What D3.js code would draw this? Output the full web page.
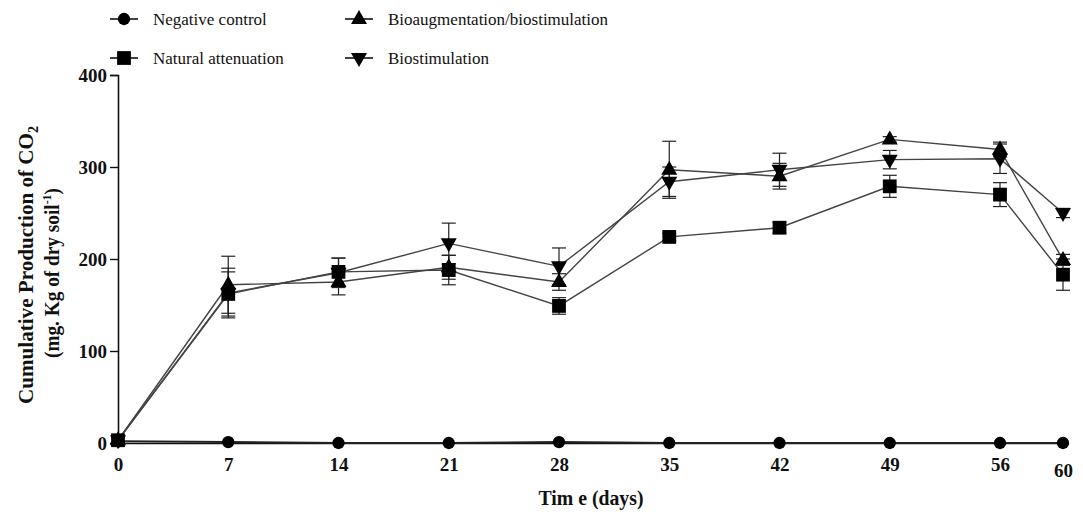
<!DOCTYPE html>
<html>
<head>
<meta charset="utf-8">
<script src="https://cdn.jsdelivr.net/npm/d3@7"></script>
<style>
  body { margin: 0; background: #fff; }
  svg { display: block; }
  text { font-family: "Liberation Serif", "Times New Roman", serif; fill: #111; }
</style>
</head>
<body>
<svg width="1083" height="517"></svg>
<script>
// Chart data
// ----------
var days = [0, 7, 14, 21, 28, 35, 42, 49, 56, 60];
var yTicks = [0, 100, 200, 300, 400];

var negControl = [2, 1, 0, 0, 1, 0, 0, 0, 0, 0];
var negControlErr = [0, 0, 0, 0, 0, 0, 0, 0, 0, 0];
var naturalAtt = [3, 162, 186, 188, 149, 224, 234, 279, 270, 183];
var naturalAttErr = [0, 24, 15, 16, 9, 4, 6, 12, 13, 17];
var bioaug = [3, 172, 175, 191, 175, 297, 290, 330, 319, 199];
var bioaugErr = [0, 31, 14, 13, 9, 31, 14, 3, 8, 6];
var biostim = [3, 163, 185, 217, 192, 284, 297, 308, 309, 250];
var biostimErr = [0, 27, 16, 22, 20, 16, 18, 10, 16, 5];

var series = [
  {name: 'Negative control', values: negControl, err: negControlErr, shape: 'circle'},
  {name: 'Natural attenuation', values: naturalAtt, err: naturalAttErr, shape: 'square'},
  {name: 'Bioaugmentation/biostimulation', values: bioaug, err: bioaugErr, shape: 'up'},
  {name: 'Biostimulation', values: biostim, err: biostimErr, shape: 'down'}
];

var svg = d3.select('svg');
var x = d3.scaleLinear().domain([0, 60]).range([118, 1063]);
var y = d3.scaleLinear().domain([0, 400]).range([443, 75]);

// marker path for each shape
function marker(shape) {
  if (shape == 'circle') return d3.symbol(d3.symbolCircle, 120)();
  if (shape == 'square') return d3.symbol(d3.symbolSquare, 190)();
  if (shape == 'up') return 'M0,-9L8,5L-8,5Z';
  return 'M0,9L8,-5L-8,-5Z';
}

// Axes
// ----
var yAxis = svg.append('g')
  .attr('transform', 'translate(118,0)')
  .call(d3.axisLeft(y).tickValues(yTicks).tickSize(8).tickPadding(3));
var xAxis = svg.append('g')
  .attr('transform', 'translate(0,443)')
  .call(d3.axisBottom(x).tickValues(days).tickSize(5).tickPadding(10));
[yAxis, xAxis].forEach(function (g) {
  g.select('.domain').attr('stroke', '#111').attr('stroke-width', 1.6);
  g.selectAll('.tick line').attr('stroke', '#111').attr('stroke-width', 1.4);
  g.selectAll('text')
    .attr('font-family', '"Liberation Serif", serif')
    .attr('font-weight', 'bold')
    .attr('font-size', '19px')
    .attr('fill', '#111');
});
xAxis.selectAll('.tick')
  .filter(function (d) { return d == 60; })
  .select('text').attr('dy', '1.0em');

// Series lines, error bars and markers
// ------------------------------------
var line = d3.line()
  .x(function (d, i) { return x(days[i]); })
  .y(function (d) { return y(d); });

series.forEach(function (s) {
  svg.append('path')
    .attr('d', line(s.values))
    .attr('fill', 'none')
    .attr('stroke', s.shape == 'circle' ? '#222' : '#444')
    .attr('stroke-width', s.shape == 'circle' ? 2 : 1.4);
});

series.forEach(function (s) {
  var g = svg.append('g');
  s.values.forEach(function (v, i) {
    var e = s.err[i];
    if (!e) return;
    var cx = x(days[i]);
    g.append('line')
      .attr('x1', cx).attr('x2', cx)
      .attr('y1', y(v - e)).attr('y2', y(v + e))
      .attr('stroke', '#222').attr('stroke-width', 1.2);
    [v - e, v + e].forEach(function (c) {
      g.append('line')
        .attr('x1', cx - 7).attr('x2', cx + 7)
        .attr('y1', y(c)).attr('y2', y(c))
        .attr('stroke', '#222').attr('stroke-width', 1.2);
    });
  });
});

series.forEach(function (s) {
  svg.append('g').selectAll('path')
    .data(s.values)
    .join('path')
    .attr('d', marker(s.shape))
    .attr('transform', function (d, i) { return 'translate(' + x(days[i]) + ',' + y(d) + ')'; })
    .attr('fill', '#000');
});

// Axis titles
// -----------
svg.append('text')
  .attr('x', 591).attr('y', 505)
  .attr('text-anchor', 'middle')
  .attr('font-weight', 'bold')
  .attr('font-size', '21px')
  .attr('textLength', 105)
  .attr('lengthAdjust', 'spacingAndGlyphs')
  .text('Tim e (days)');

var yTitle = svg.append('g')
  .attr('transform', 'translate(0,260) rotate(-90)');
var t1 = yTitle.append('text')
  .attr('x', -144).attr('y', 33)
  .attr('font-weight', 'bold')
  .attr('font-size', '21px')
  .attr('textLength', 278)
  .attr('lengthAdjust', 'spacingAndGlyphs')
  .text('Cumulative Production of CO');
t1.append('tspan').attr('font-size', '14px').attr('dy', 5).text('2');
var t2 = yTitle.append('text')
  .attr('x', -98).attr('y', 59)
  .attr('font-weight', 'bold')
  .attr('font-size', '21px')
  .attr('textLength', 170)
  .attr('lengthAdjust', 'spacingAndGlyphs')
  .text('(mg. Kg of dry soil');
t2.append('tspan').attr('font-size', '13px').attr('dy', -8).text('-1');
t2.append('tspan').attr('dy', 8).text(')');

// Legend
// ------
var legendPos = [[124, 19], [124, 58], [359, 19], [359, 58]];
series.forEach(function (s, i) {
  var p = legendPos[i];
  var g = svg.append('g').attr('transform', 'translate(' + p[0] + ',' + p[1] + ')');
  g.append('line')
    .attr('x1', -14).attr('x2', 14)
    .attr('stroke', '#111').attr('stroke-width', 1.6);
  g.append('path').attr('d', marker(s.shape)).attr('fill', '#000');
  g.append('text')
    .attr('x', 29).attr('y', 6)
    .attr('font-size', '17px')
    .attr('fill', '#222')
    .text(s.name);
});
</script>
</body>
</html>
